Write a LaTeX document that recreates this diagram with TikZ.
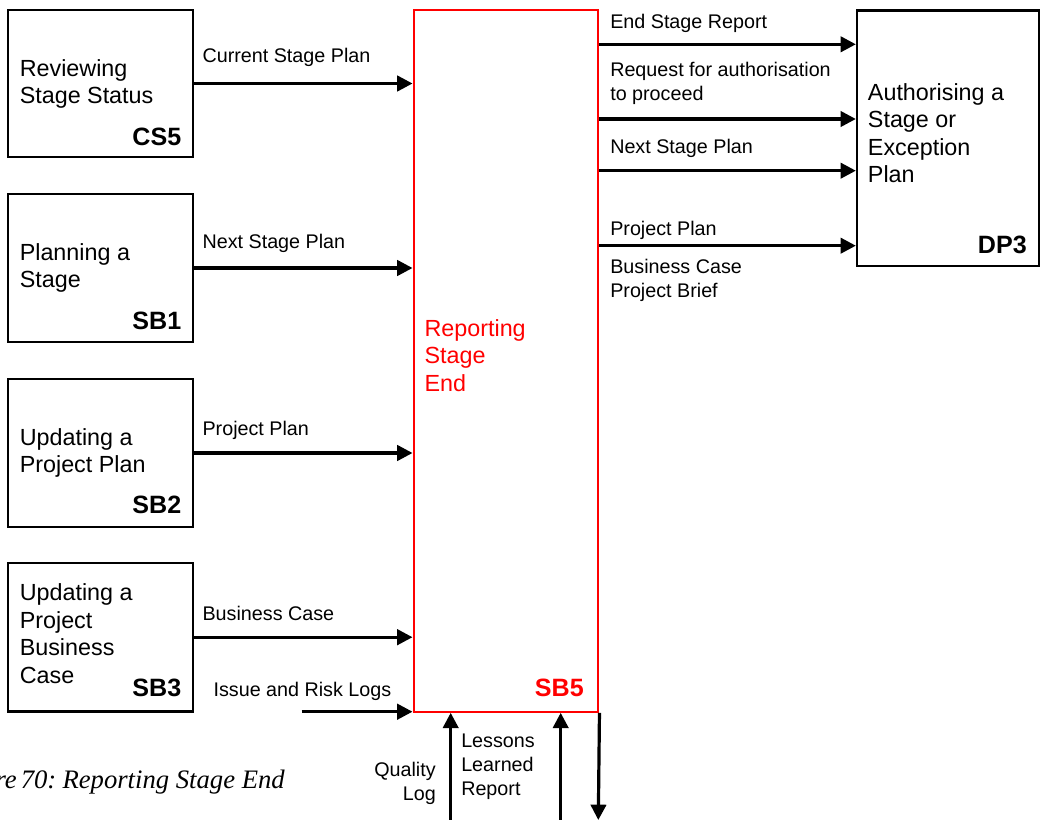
\documentclass[tikz,border=0pt]{standalone}
\usepackage{fontspec}
\setmainfont{Liberation Sans}
\newfontfamily\capfont{Liberation Serif}
\usetikzlibrary{arrows.meta}

\definecolor{sbred}{RGB}{255,0,0}

\begin{document}
\begin{tikzpicture}[x=0.75pt,y=-0.75pt,
  procbox/.style={draw=black,line width=1.7pt,inner sep=0pt,minimum width=138.75pt},
  mainbox/.style={draw=sbred,line width=1.6pt,inner sep=0pt},
  flow/.style={line width=2.4pt,-{Triangle[length=11.5pt,width=11.5pt]}},
  boxtxt/.style={inner sep=0pt,align=left,font=\fontsize{17.5}{20.6}\selectfont},
  codetxt/.style={inner sep=0pt,font=\fontsize{18.8}{22}\selectfont\bfseries},
  lbl/.style={inner sep=0pt,align=left,font=\fontsize{14.8}{18}\selectfont},
  captxt/.style={inner sep=0pt,font=\fontsize{20}{24}\capfont\itshape}]

\clip (0,0) rectangle (1040,820);
\fill[white] (0,0) rectangle (1040,820);

% process boxes on the left
\node[procbox,minimum height=110.25pt] (cs5) at (100.5,83.5) {};
\node[procbox,minimum height=110.5pt]  (sb1) at (100.5,268) {};
\node[procbox,minimum height=111pt]    (sb2) at (100.5,453) {};
\node[procbox,minimum height=111.5pt]  (sb3) at (100.5,637.2) {};

% the central process
\node[mainbox,minimum width=138.6pt,minimum height=526.3pt] (sb5) at (506,360.85) {};

% the process on the right
\node[procbox,minimum width=136.5pt,minimum height=191.6pt] (dp3) at (948,138.2) {};

% box titles
\node[boxtxt,anchor=north west] (cs5t) at (19.5,59.3) {Reviewing\\Stage Status};
\node[boxtxt,anchor=north west] (sb1t) at (19.5,243) {Planning a\\Stage};
\node[boxtxt,anchor=north west] (sb2t) at (19.5,428) {Updating a\\Project Plan};
\node[boxtxt,anchor=north west] (sb3t) at (19.5,583.7) {Updating a\\Project\\Business\\Case};
\node[boxtxt,anchor=north west,text=sbred] (sb5t) at (424.3,319.3) {Reporting\\Stage\\End};
\node[boxtxt,anchor=north west] (dp3t) at (867.7,83) {Authorising a\\Stage or\\Exception\\Plan};

% process codes
\node[codetxt,anchor=base east] (cs5c) at (181.5,146) {CS5};
\node[codetxt,anchor=base east] (sb1c) at (181.5,329.5) {SB1};
\node[codetxt,anchor=base east] (sb2c) at (181.5,513) {SB2};
\node[codetxt,anchor=base east] (sb3c) at (181.5,696.7) {SB3};
\node[codetxt,anchor=base east,text=sbred] (sb5c) at (584,696.7) {SB5};
\node[codetxt,anchor=base east] (dp3c) at (1027,254) {DP3};

% inputs from the left
\draw[flow] (cs5.east) -- (cs5.east -| sb5.west);
\draw[flow] (sb1.east) -- (sb1.east -| sb5.west);
\draw[flow] (sb2.east) -- (sb2.east -| sb5.west);
\draw[flow] (sb3.east) -- (sb3.east -| sb5.west);
\coordinate (logsin) at (301.7,711.7);
\draw[flow] (logsin) -- (logsin -| sb5.west);

\node[lbl,anchor=base west] (l1) at (202.3,63) {Current Stage Plan};
\node[lbl,anchor=base west] (l2) at (202.3,249) {Next Stage Plan};
\node[lbl,anchor=base west] (l3) at (202.3,435) {Project Plan};
\node[lbl,anchor=base west] (l4) at (202.3,620) {Business Case};
\node[lbl,anchor=base west] (l5) at (213.3,696.7) {Issue and Risk Logs};

% outputs to the right
\coordinate (r1) at (0,44.3);
\coordinate (r2) at (0,119);
\coordinate (r3) at (0,170.7);
\coordinate (r4) at (0,245.7);
\draw[flow] (sb5.east |- r1) -- (dp3.west |- r1);
\draw[flow] (sb5.east |- r2) -- (dp3.west |- r2);
\draw[flow] (sb5.east |- r3) -- (dp3.west |- r3);
\draw[flow] (sb5.east |- r4) -- (dp3.west |- r4);

\node[lbl,anchor=base west] (o1) at (610,28.3) {End Stage Report};
\node[lbl,anchor=north west] (o2) at (610,61.6) {Request for authorisation\\to proceed};
\node[lbl,anchor=base west] (o3) at (610,153.3) {Next Stage Plan};
\node[lbl,anchor=base west] (o4) at (610,236) {Project Plan};
\node[lbl,anchor=north west] (o5) at (610,258.6) {Business Case\\Project Brief};

% flows at the bottom
\coordinate (qin) at (450.7,822);
\coordinate (lin) at (560.7,822);
\coordinate (dout) at (598.3,820);
\draw[flow] (qin) -- (qin |- sb5.south);
\draw[flow] (lin) -- (lin |- sb5.south);
\draw[flow] (sb5.south east) -- (dout);

\node[lbl,anchor=north east,align=right] (b1) at (436,762.3) {Quality\\Log};
\node[lbl,anchor=north west] (b2) at (461,733.9) {Lessons\\Learned\\Report};

% figure caption (slightly tighter word spacing)
\node[captxt,anchor=base east] (cap) at (285,788.3) {Figure\hspace{-2pt} 70:\hspace{-2pt} Reporting Stage End};

\end{tikzpicture}
\end{document}
